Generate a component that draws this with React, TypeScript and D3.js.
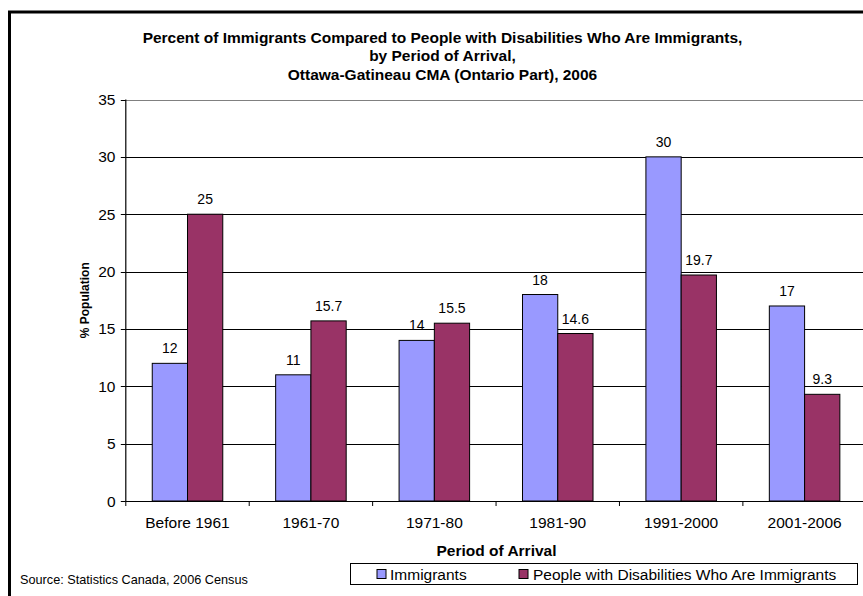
import React from "react";
import * as d3 from "d3";

const categories = ["Before 1961", "1961-70", "1971-80", "1981-90", "1991-2000", "2001-2006"];
const immigrants = [12, 11, 14, 18, 30, 17];
const disabled = [25, 15.7, 15.5, 14.6, 19.7, 9.3];
const yTicks = [0, 5, 10, 15, 20, 25, 30, 35];
const seriesNames = ["Immigrants", "People with Disabilities Who Are Immigrants"];
const titleLines = [
  "Percent of Immigrants Compared to People with Disabilities Who Are Immigrants,",
  "by Period of Arrival,",
  "Ottawa-Gatineau CMA (Ontario Part), 2006",
];

const W = 863;
const H = 596;
const FONT = "Arial, 'Liberation Sans', sans-serif";
const C1 = "#9999FF";
const C2 = "#993366";

export default function App() {
  const left = 125.8;
  const right = 866.3;
  const top = 99.5;
  const bottom = 501;
  const x = d3.scaleBand<string>().domain(categories).range([left, right]).paddingInner(0).paddingOuter(0);
  const y = d3.scaleLinear().domain([0, 35]).range([bottom, top]);
  const bw = x.bandwidth() / 3.5;
  const off = (x.bandwidth() - 2 * bw) / 2;

  return (
    <svg
      width={W}
      height={H}
      style={{ position: "absolute", left: 0, top: 0, background: "#fff" }}
      fontFamily={FONT}
    >
      <rect x={0} y={0} width={W} height={H} fill="#fff" />
      {/* outer chart border */}
      <rect x={9.5} y={12} width={W + 50} height={H + 50} fill="none" stroke="#000" strokeWidth={3} />

      {/* title */}
      {titleLines.map((t, i) => (
        <text key={i} x={442.5} y={42.5 + i * 18.7} textAnchor="middle" fontSize={15.5} fontWeight="bold" fill="#000">
          {t}
        </text>
      ))}

      {/* gridlines */}
      {yTicks.filter((v) => v > 0 && v < 35).map((v) => (
        <line key={v} x1={left} x2={right} y1={Math.round(y(v)) + 0.5} y2={Math.round(y(v)) + 0.5} stroke="#000" strokeWidth={1} />
      ))}
      {/* plot border top */}
      <line x1={left} x2={right} y1={Math.round(y(35)) + 0.5} y2={Math.round(y(35)) + 0.5} stroke="#808080" strokeWidth={1} />

      {/* bars */}
      {categories.map((c, i) => {
        const x0 = (x(c) as number) + off;
        return (
          <g key={c}>
            <rect x={x0} y={y(immigrants[i])} width={bw} height={y(0) - y(immigrants[i])} fill={C1} stroke="#000" strokeWidth={1} />
            <rect x={x0 + bw} y={y(disabled[i])} width={bw} height={y(0) - y(disabled[i])} fill={C2} stroke="#000" strokeWidth={1} />
            <text x={x0 + bw / 2} y={y(immigrants[i]) - 10} textAnchor="middle" fontSize={14} fill="#000">
              {immigrants[i]}
            </text>
            <text x={x0 + bw * 1.5} y={y(disabled[i]) - 10} textAnchor="middle" fontSize={14} fill="#000">
              {disabled[i]}
            </text>
          </g>
        );
      })}

      {/* y axis */}
      <line x1={left} x2={left} y1={top} y2={bottom} stroke="#000" strokeWidth={1.2} />
      {yTicks.map((v) => (
        <g key={v}>
          <line x1={left - 5} x2={left} y1={Math.round(y(v)) + 0.5} y2={Math.round(y(v)) + 0.5} stroke="#000" />
          <text x={115.5} y={y(v) + 5.5} textAnchor="end" fontSize={15.5} fill="#000">
            {v}
          </text>
        </g>
      ))}

      {/* x axis */}
      <line x1={left} x2={right} y1={bottom + 0.5} y2={bottom + 0.5} stroke="#000" strokeWidth={1.2} />
      {categories.map((c) => (
        <line key={"t" + c} x1={x(c) as number} x2={x(c) as number} y1={bottom} y2={bottom + 5} stroke="#000" />
      ))}
      <line x1={right} x2={right} y1={bottom} y2={bottom + 5} stroke="#000" />
      {categories.map((c) => (
        <text key={"l" + c} x={(x(c) as number) + x.bandwidth() / 2} y={528} textAnchor="middle" fontSize={15.5} fill="#000">
          {c}
        </text>
      ))}

      {/* axis titles */}
      <text x={496.5} y={555.5} textAnchor="middle" fontSize={15.5} fontWeight="bold" fill="#000">
        Period of Arrival
      </text>
      <text
        transform={`translate(88.5, ${(top + bottom) / 2}) rotate(-90)`}
        textAnchor="middle"
        fontSize={12}
        fontWeight="bold"
        fill="#000"
      >
        % Population
      </text>

      {/* source */}
      <text x={20} y={584} fontSize={12.7} fill="#000">
        Source: Statistics Canada, 2006 Census
      </text>

      {/* legend */}
      <rect x={350.5} y={563.5} width={507} height={21} fill="#fff" stroke="#000" strokeWidth={1} />
      <rect x={377} y={569.5} width={9} height={9} fill={C1} stroke="#000" strokeWidth={1} />
      <text x={390} y={579.5} fontSize={15.5} fill="#000">
        {seriesNames[0]}
      </text>
      <rect x={519} y={569.5} width={9} height={9} fill={C2} stroke="#000" strokeWidth={1} />
      <text x={533} y={579.5} fontSize={15.5} fill="#000">
        {seriesNames[1]}
      </text>
    </svg>
  );
}
